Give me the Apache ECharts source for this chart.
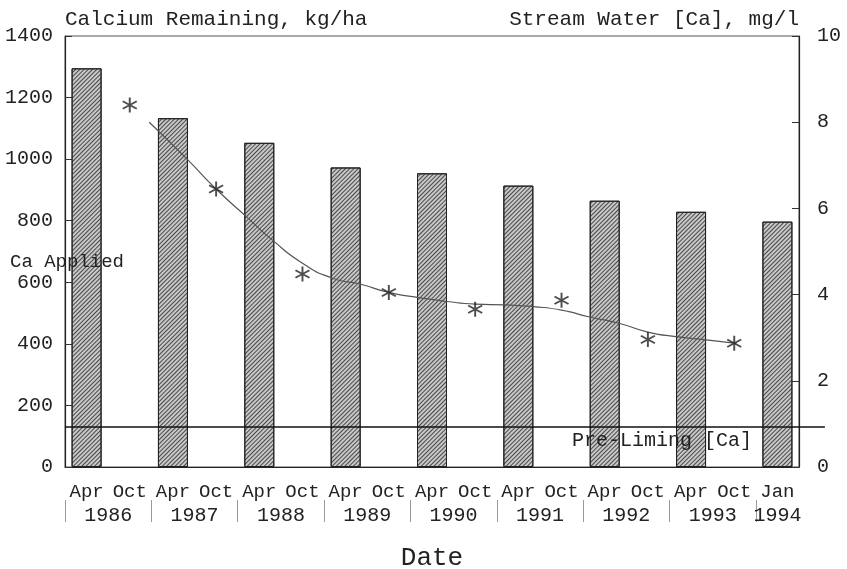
<!DOCTYPE html>
<html><head><meta charset="utf-8">
<script src="https://cdn.jsdelivr.net/npm/echarts@6/dist/echarts.min.js"></script>
<style>html,body{margin:0;padding:0;background:#fff}#c{width:847px;height:569px}</style>
</head><body><div id="c"></div>
<script>
// ---- data ----
const months = ['Apr','Oct','Apr','Oct','Apr','Oct','Apr','Oct','Apr','Oct','Apr','Oct','Apr','Oct','Apr','Oct','Jan'];
const yearOfCat = [1986,1986,1987,1987,1988,1988,1989,1989,1990,1990,1991,1991,1992,1992,1993,1993,1994];
const caRemaining = [1295,null,1133,null,1053,null,973,null,954,null,914,null,865,null,829,null,797];
const streamCa = [null,8.40,null,6.45,null,4.48,null,4.05,null,3.66,null,3.87,null,2.96,null,2.87,null];
// smoothed fit of stream [Ca]; x in category-position units (category i spans i..i+1)
const fitX = [1.95,2.85,3.5,4.2,4.8,5.5,6.2,6.85,7.5,8.2,8.85,9.5,10.2,10.85,11.5,12.15,12.85,13.5,14.2,14.85,15.55];
const fitY = [8.0,7.12,6.45,5.81,5.27,4.73,4.38,4.24,4.05,3.93,3.84,3.78,3.76,3.72,3.64,3.48,3.33,3.13,3.02,2.95,2.87];
const preLimingCa = 0.93;
const preLimingSpan = [0, 17.6];
const leftAxis = {min:0, max:1400, interval:200};
const rightAxis = {min:0, max:10, interval:2};

// ---- derived ----
const years = [...new Set(yearOfCat)];
const yearStart = years.map(y => yearOfCat.indexOf(y));
const yearCenter = years.map(y => {
  const idx = yearOfCat.map((v,i)=>v===y?i+0.5:null).filter(v=>v!==null);
  return idx.reduce((a,b)=>a+b,0)/idx.length;
});
const FONT = 'Liberation Mono';
const TXT = '#222';
const GL = 65, GR = 48, GT = 36, GB = 102;
const catW = (847 - GL - GR) / months.length;
const extRight = GR - (preLimingSpan[1] - months.length) * catW;

const starPath = 'path://M8.8 0L8.8 20L11.2 20L11.2 0Z M0.74 6.04L18.06 16.04L19.26 13.96L1.94 3.96Z M1.94 16.04L19.26 6.04L18.06 3.96L0.74 13.96Z';
const hidden = {axisLine:{show:false}, axisTick:{show:false}, axisLabel:{show:false}, splitLine:{show:false}};

const chart = echarts.init(document.getElementById('c'));
chart.setOption({
  animation:false,
  backgroundColor:'#fff',
  textStyle:{fontFamily:FONT, color:TXT},
  grid:[
    {left:GL, right:GR, top:GT, bottom:GB, show:true, borderColor:'#555', borderWidth:1,
     backgroundColor:'transparent', containLabel:false, outerBoundsMode:'none'},
    {left:GL, right:GR, top:500, height:22, show:false, containLabel:false, outerBoundsMode:'none'},
    {left:GL, right:extRight, top:GT, bottom:GB, show:false, containLabel:false, outerBoundsMode:'none'}
  ],
  xAxis:[{
    gridIndex:0, type:'category', data:months, boundaryGap:true,
    axisLine:{lineStyle:{color:'#222', width:1.2}},
    axisTick:{inside:true, alignWithLabel:true, length:7, lineStyle:{color:'#333'}},
    axisLabel:{interval:0, margin:15, fontSize:19, color:TXT, fontFamily:FONT},
    name:'Date', nameLocation:'middle', nameGap:78,
    nameTextStyle:{fontSize:26, color:TXT, fontFamily:FONT}
  },{
    gridIndex:1, type:'value', min:0, max:months.length, position:'bottom',
    axisLine:{show:false}, splitLine:{show:false},
    axisTick:{show:true, customValues:yearStart, length:22, inside:true, lineStyle:{color:'#999'}},
    axisLabel:{customValues:yearCenter, margin:-16, fontSize:20, color:TXT, fontFamily:FONT,
      formatter:(v)=>{ const k = yearCenter.findIndex(c=>Math.abs(c-v)<1e-6); return k>=0?String(years[k]):''; }}
  },{
    gridIndex:2, type:'value', min:preLimingSpan[0], max:preLimingSpan[1], ...hidden
  }],
  yAxis:[{
    gridIndex:0, type:'value', min:leftAxis.min, max:leftAxis.max, interval:leftAxis.interval,
    axisLine:{show:true, lineStyle:{color:'#222', width:1.2}},
    axisTick:{show:true, inside:true, length:7, lineStyle:{color:'#333'}},
    axisLabel:{margin:12, fontSize:20, color:TXT, fontFamily:FONT, formatter:(v)=>String(v)},
    splitLine:{show:false},
    name:'Calcium Remaining, kg/ha', nameLocation:'end', nameGap:6,
    nameTextStyle:{align:'left', fontSize:21, color:TXT, fontFamily:FONT}
  },{
    gridIndex:0, type:'value', position:'right', min:rightAxis.min, max:rightAxis.max, interval:rightAxis.interval,
    axisLine:{show:true, lineStyle:{color:'#222', width:1.2}},
    axisTick:{show:true, inside:true, length:7, lineStyle:{color:'#333'}},
    axisLabel:{margin:18, fontSize:20, color:TXT, fontFamily:FONT},
    splitLine:{show:false},
    name:'Stream Water [Ca], mg/l', nameLocation:'end', nameGap:6,
    nameTextStyle:{align:'right', fontSize:21, color:TXT, fontFamily:FONT}
  },{
    gridIndex:1, type:'value', min:0, max:1, ...hidden
  },{
    gridIndex:2, type:'value', min:rightAxis.min, max:rightAxis.max, ...hidden
  }],
  series:[{
    type:'bar', data:caRemaining, barWidth:30, xAxisIndex:0, yAxisIndex:0,
    itemStyle:{color:'#c8c8c8', borderColor:'#222', borderWidth:1,
      decal:{symbol:'rect', symbolSize:1, dashArrayX:[1,0], dashArrayY:[1,2], rotation:-Math.PI/4, color:'rgba(30,30,30,0.75)'}}
  },{
    type:'scatter', data:streamCa, xAxisIndex:0, yAxisIndex:1,
    symbol:starPath, symbolSize:15, itemStyle:{color:'#222'}, z:5
  },{
    type:'line', xAxisIndex:2, yAxisIndex:3, data:fitX.map((x,i)=>[x,fitY[i]]),
    smooth:0.6, showSymbol:false, lineStyle:{color:'#555', width:1.2}
  },{
    type:'line', xAxisIndex:2, yAxisIndex:3,
    data:preLimingSpan.map(x=>[x,preLimingCa]),
    showSymbol:false, lineStyle:{color:'#111', width:1.5}
  }],
  graphic:[
    {type:'text', left:10, top:252, z:100, style:{text:'Ca Applied', font:'19px "Liberation Mono"', fill:TXT}},
    {type:'text', left:572, top:431, z:100, style:{text:'Pre-Liming [Ca]', font:'20px "Liberation Mono"', fill:TXT}}
  ]
});
</script>
</body></html>
